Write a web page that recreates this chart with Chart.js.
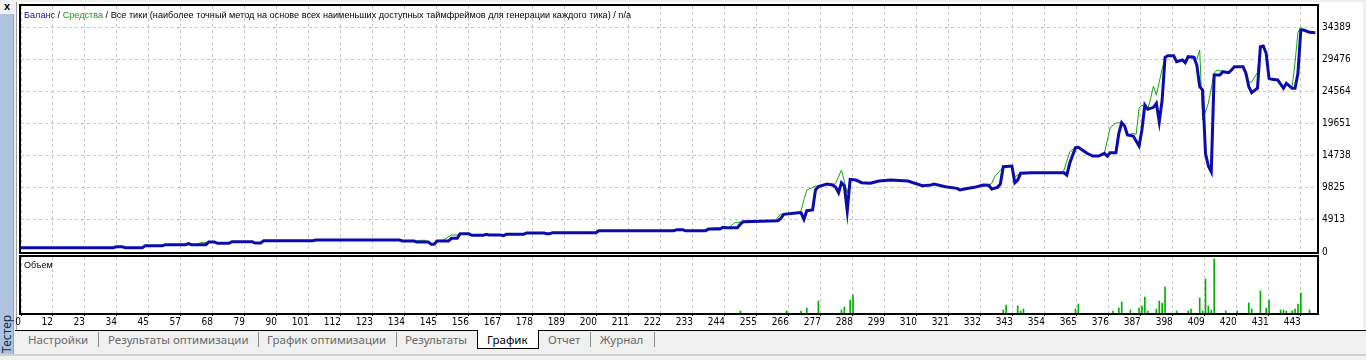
<!DOCTYPE html>
<html>
<head>
<meta charset="utf-8">
<script src="https://cdn.jsdelivr.net/npm/chart.js@4.4.1/dist/chart.umd.min.js"></script>
<style>
  body { margin: 0; width: 1366px; height: 360px; background: #f0f0f0; position: relative; overflow: hidden; font-family: 'Noto Sans', sans-serif; }
  .abs { position: absolute; }
  #close { left: 4px; top: 0px; font: bold 11px 'Liberation Sans', sans-serif; color: #000; }
  #side { left: 0; top: 14px; width: 13px; height: 342px; background: #aec3de; border-right: 1px solid #8ea6c6; }
  #sideText { left: 0; top: 314px; width: 14px; height: 40px; writing-mode: vertical-rl; transform: rotate(180deg); font-size: 12px; line-height: 14px; color: #1c2850; text-align: center; }
  #panel { left: 16px; top: 2px; width: 1346px; height: 328px; background: #fff; border-left: 1px solid #a0a0a0; }
  #tabLine { left: 15px; top: 330px; width: 1351px; height: 1px; background: #000; }
  #bottomLine { left: 0; top: 354px; width: 1366px; height: 2px; background: #d2d2d2; }
  .tab { top: 333px; font-size: 11.5px; line-height: 14px; color: #6a6a6a; white-space: nowrap; }
  .sep { top: 332px; width: 1px; height: 15px; background: #8c8c8c; }
  #activeTab { left: 477px; top: 330px; width: 60px; height: 18px; background: #fff; border: 1px solid #000; border-top: none; }
  .lbl { font: 9px 'Liberation Sans', sans-serif; color: #000; white-space: nowrap; transform-origin: left top; }
  canvas { position: absolute; left: 0; }
</style>
</head>
<body>
<div id="close" class="abs">x</div>
<div id="side" class="abs"></div>
<div id="sideText" class="abs">Тестер</div>
<div id="panel" class="abs"></div>
<div id="tabLine" class="abs"></div>
<div id="bottomLine" class="abs"></div>

<canvas id="main" width="1366" height="256" style="top:0"></canvas>
<canvas id="vol" width="1366" height="76" style="top:254px"></canvas>

<div id="title" class="abs lbl" style="left:24px; top:10px"><span style="color:#1010a0">Баланс</span> / <span style="color:#10a010">Средства</span> / Все тики (наиболее точный метод на основе всех наименьших доступных таймфреймов для генерации каждого тика) / n/a</div>
<div id="volTitle" class="abs lbl" style="left:24px; top:260px">Объем</div>

<div class="abs tab" style="left:28px">Настройки</div>
<div class="abs sep" style="left:98px"></div>
<div class="abs tab" style="left:108px">Результаты оптимизации</div>
<div class="abs sep" style="left:258px"></div>
<div class="abs tab" style="left:267px">График оптимизации</div>
<div class="abs sep" style="left:396px"></div>
<div class="abs tab" style="left:405px">Результаты</div>
<div id="activeTab" class="abs"></div>
<div class="abs tab" style="left:487px; color:#000">График</div>
<div class="abs tab" style="left:548px">Отчет</div>
<div class="abs sep" style="left:590px"></div>
<div class="abs tab" style="left:600px">Журнал</div>
<div class="abs sep" style="left:654px"></div>

<script>
// trade number / balance
const balanceIdx = [0, 32, 33, 35, 36, 42, 43, 49, 50, 57, 58, 59, 64, 65, 67, 68, 72, 73, 80, 81, 83, 84, 101, 102, 131, 132, 136, 137, 141, 142, 143, 144, 148, 149, 151, 152, 155, 156, 160, 161, 162, 166, 167, 168, 174, 175, 181, 182, 183, 184, 199, 200, 226, 227, 229, 230, 237, 238, 242, 243, 244, 248, 249, 250, 262, 263, 264, 269, 270, 271, 272, 274, 275, 276, 279, 281, 282, 283, 284, 285, 286, 287, 289, 291, 294, 297, 301, 307, 312, 315, 316, 320, 324, 325, 327, 330, 333, 335, 336, 338, 339, 340, 343, 344, 345, 346, 350, 361, 362, 363, 365, 366, 369, 371, 373, 375, 376, 377, 379, 380, 381, 382, 383, 385, 387, 388, 389, 390, 392, 393, 394, 395, 396, 397, 399, 400, 402, 403, 404, 406, 407, 408, 409, 410, 411, 412, 413, 415, 416, 418, 419, 420, 423, 424, 425, 426, 428, 429, 430, 431, 432, 433, 435, 437, 438, 440, 441, 442, 443, 444, 446, 448];
const balanceVal = [663, 663, 816, 816, 663, 663, 969, 969, 1122, 1122, 1275, 1122, 1122, 1530, 1530, 1326, 1326, 1581, 1581, 1377, 1377, 1734, 1734, 1836, 1836, 1683, 1683, 1530, 1530, 1173, 1173, 1683, 1683, 2091, 2091, 2805, 2805, 2550, 2550, 2703, 2601, 2601, 2499, 2703, 2703, 2907, 2907, 2805, 2805, 2958, 2958, 3264, 3264, 3417, 3417, 3264, 3264, 3519, 3519, 3780, 3719, 3719, 4284, 4636, 4789, 5151, 5763, 6008, 6008, 4998, 6325, 6426, 9488, 9999, 10409, 10256, 9897, 9078, 10608, 10102, 6273, 11123, 11016, 10608, 10511, 10868, 11016, 10868, 10149, 10256, 10408, 9999, 9744, 9488, 9693, 9897, 10256, 10204, 9642, 9897, 10400, 13055, 13162, 10606, 11020, 12045, 12136, 12136, 11785, 13575, 15963, 16024, 15106, 14693, 14693, 15106, 14693, 15198, 15198, 18167, 19790, 19285, 17908, 17754, 16224, 18673, 22499, 21841, 22147, 22759, 19943, 23266, 29799, 30044, 30044, 29125, 29386, 28973, 29891, 29799, 28621, 25300, 24794, 15106, 13162, 12290, 27089, 27089, 27594, 27441, 27855, 28360, 28360, 27350, 25300, 24381, 25054, 31421, 31528, 30411, 26585, 26432, 26325, 25054, 25819, 25054, 25054, 27350, 33966, 33966, 33614, 33553];

// trade number / equity
const equityIdx = [0, 32, 33, 35, 36, 42, 43, 49, 50, 57, 58, 59, 61, 62, 64, 65, 67, 68, 72, 73, 80, 81, 83, 84, 101, 102, 131, 132, 137, 138, 140, 141, 142, 143, 144, 145, 146, 149, 151, 152, 155, 156, 160, 161, 162, 166, 167, 168, 173, 174, 175, 181, 182, 183, 184, 199, 200, 226, 227, 229, 230, 237, 238, 240, 242, 243, 244, 245, 247, 250, 261, 262, 263, 264, 269, 270, 271, 272, 275, 276, 279, 281, 282, 284, 286, 287, 289, 291, 294, 297, 301, 307, 312, 315, 316, 320, 324, 325, 327, 330, 333, 335, 336, 337, 339, 340, 343, 344, 346, 350, 360, 361, 363, 365, 366, 369, 371, 373, 375, 377, 379, 381, 382, 383, 385, 386, 387, 388, 390, 391, 392, 393, 394, 395, 396, 397, 399, 400, 402, 403, 404, 406, 407, 408, 409, 411, 413, 414, 416, 418, 419, 420, 423, 424, 425, 426, 428, 429, 430, 431, 432, 433, 435, 437, 438, 440, 441, 442, 443, 444, 446, 448];
const equityVal = [663, 663, 816, 816, 663, 663, 969, 969, 1122, 1122, 1275, 1122, 1122, 1428, 1428, 1530, 1530, 1326, 1326, 1581, 1581, 1377, 1377, 1734, 1734, 1836, 1836, 1683, 1683, 1785, 1785, 1530, 1173, 1173, 1683, 1785, 1785, 2601, 2601, 2805, 2805, 2550, 2550, 2703, 2601, 2601, 2499, 2703, 2703, 2856, 2907, 2907, 2805, 2805, 2958, 2958, 3264, 3264, 3417, 3417, 3264, 3264, 3519, 3723, 3723, 3780, 3719, 3719, 4484, 4636, 4789, 5300, 5816, 5763, 6008, 6326, 8000, 9488, 10100, 9999, 10409, 10256, 10560, 12550, 9000, 11123, 11016, 10608, 10511, 10868, 11016, 10868, 10149, 10256, 10408, 9999, 9744, 9488, 9693, 9897, 10256, 10204, 10500, 11500, 12500, 13055, 13162, 11520, 12045, 12136, 12136, 12500, 15300, 16000, 16024, 15106, 14693, 14693, 15106, 19000, 19738, 19790, 19285, 17908, 18163, 18000, 22000, 22500, 21841, 23500, 25400, 24000, 26000, 28000, 29799, 30044, 30044, 29125, 29386, 28973, 29891, 30000, 29500, 30900, 20200, 22760, 27350, 27855, 27594, 27441, 27855, 28360, 28360, 27350, 26000, 26000, 27500, 31421, 31528, 30411, 26585, 26432, 26325, 25054, 25819, 25300, 29000, 33600, 34389, 33966, 33614, 33553];

// trade number / volume (lots)
const volumeIdx = [249, 265, 270, 272, 276, 284, 285, 287, 288, 340, 341, 345, 346, 347, 365, 366, 378, 380, 381, 384, 387, 388, 389, 390, 393, 394, 395, 396, 400, 404, 405, 408, 409, 410, 411, 412, 413, 417, 421, 425, 426, 429, 431, 432, 436, 437, 438, 440, 441, 442, 443, 446];
const volumeVal = [0.2, 0.2, 0.2, 0.5, 1.2, 0.3, 0.6, 1.3, 1.8, 0.3, 0.8, 0.7, 0.2, 0.4, 0.4, 0.9, 0.2, 0.5, 1.1, 0.3, 0.5, 0.7, 1.6, 0.2, 0.4, 1.2, 1.0, 2.6, 0.2, 0.2, 0.4, 1.5, 0.2, 3.4, 0.7, 0.3, 5.4, 0.2, 0.2, 1.0, 0.4, 2.2, 0.5, 1.3, 0.3, 0.3, 0.2, 0.2, 0.4, 0.9, 2.0, 0.3];

const yTickLabels = [0, 4913, 9825, 14738, 19651, 24564, 29476, 34389];
const xTickLabels = ['0', '12', '23', '34', '45', '57', '68', '79', '90', '101', '112', '123', '134', '145', '156', '167', '178', '189', '200', '211', '222', '233', '244', '255', '266', '277', '288', '299', '310', '321', '332', '343', '354', '365', '376', '387', '398', '409', '420', '431', '443'];

const xMax = 448.6;
const xStep = 443 / 40;
const gridColor = '#c8c8c8';
const smallFont = { family: "'Liberation Sans Narrow', 'DejaVu Sans Condensed', sans-serif", size: 10, lineHeight: 1 };

const framePlugin = {
  id: 'frame',
  afterDraw(chart) {
    const { ctx, chartArea: a } = chart;
    ctx.save();
    ctx.strokeStyle = '#000';
    ctx.lineWidth = 2;
    ctx.strokeRect(a.left - 1, a.top - 1, a.right - a.left + 2, a.bottom - a.top + 2);
    ctx.restore();
  }
};

function xGridTicks(scale) {
  scale.ticks = xTickLabels.map((l, k) => ({ value: k * xStep }));
}

const toPoints = (xs, ys) => xs.map((x, i) => ({ x, y: ys[i] }));

new Chart(document.getElementById('main'), {
  type: 'line',
  data: {
    datasets: [
      { data: toPoints(balanceIdx, balanceVal), borderColor: '#0c0cac', borderWidth: 3, pointRadius: 0, tension: 0 },
      { data: toPoints(equityIdx, equityVal), borderColor: '#10a810', borderWidth: 1, pointRadius: 0, tension: 0 }
    ]
  },
  options: {
    responsive: false,
    animation: false,
    layout: { padding: { left: 21, top: 6, right: 4, bottom: 4 } },
    plugins: { legend: { display: false }, tooltip: { enabled: false } },
    scales: {
      x: {
        type: 'linear', min: 0, max: xMax,
        afterBuildTicks: xGridTicks,
        afterFit(s) { s.height = 0; s.paddingLeft = 0; s.paddingRight = 0; },
        ticks: { display: false },
        grid: { color: gridColor, drawTicks: false },
        border: { display: false, dash: [3, 3] }
      },
      y: {
        position: 'right', min: 0, max: 37650,
        afterBuildTicks(s) { s.ticks = yTickLabels.map(v => ({ value: v })); },
        afterFit(s) { s.width = 45; s.paddingTop = 0; s.paddingBottom = 0; },
        ticks: { color: '#000', font: smallFont, padding: 5, callback: v => String(v) },
        grid: { color: gridColor, drawTicks: false },
        border: { display: false, dash: [3, 3] }
      }
    }
  },
  plugins: [framePlugin]
});

new Chart(document.getElementById('vol'), {
  type: 'bar',
  data: {
    datasets: [
      { data: toPoints(volumeIdx, volumeVal), backgroundColor: '#00b000', barThickness: 1 }
    ]
  },
  options: {
    responsive: false,
    animation: false,
    layout: { padding: { left: 21, top: 3, right: 49, bottom: 0 } },
    plugins: { legend: { display: false }, tooltip: { enabled: false } },
    scales: {
      x: {
        type: 'linear', min: 0, max: xMax, offset: false,
        afterBuildTicks: xGridTicks,
        afterFit(s) { s.height = 17; s.paddingLeft = 0; s.paddingRight = 0; },
        ticks: { color: '#000', font: smallFont, padding: 1, align: 'end', autoSkip: false, maxRotation: 0,
          callback: (v, i) => xTickLabels[i] },
        grid: { color: gridColor, offset: false, tickLength: 3, tickColor: '#000' },
        border: { display: false, dash: [3, 3] }
      },
      y: { display: false, min: 0, max: 5.6 }
    }
  },
  plugins: [framePlugin]
});

// squeeze the caption to the width it has in the terminal window
const title = document.getElementById('title');
title.style.transform = 'scaleX(' + (607 / title.offsetWidth) + ')';
</script>
</body>
</html>
